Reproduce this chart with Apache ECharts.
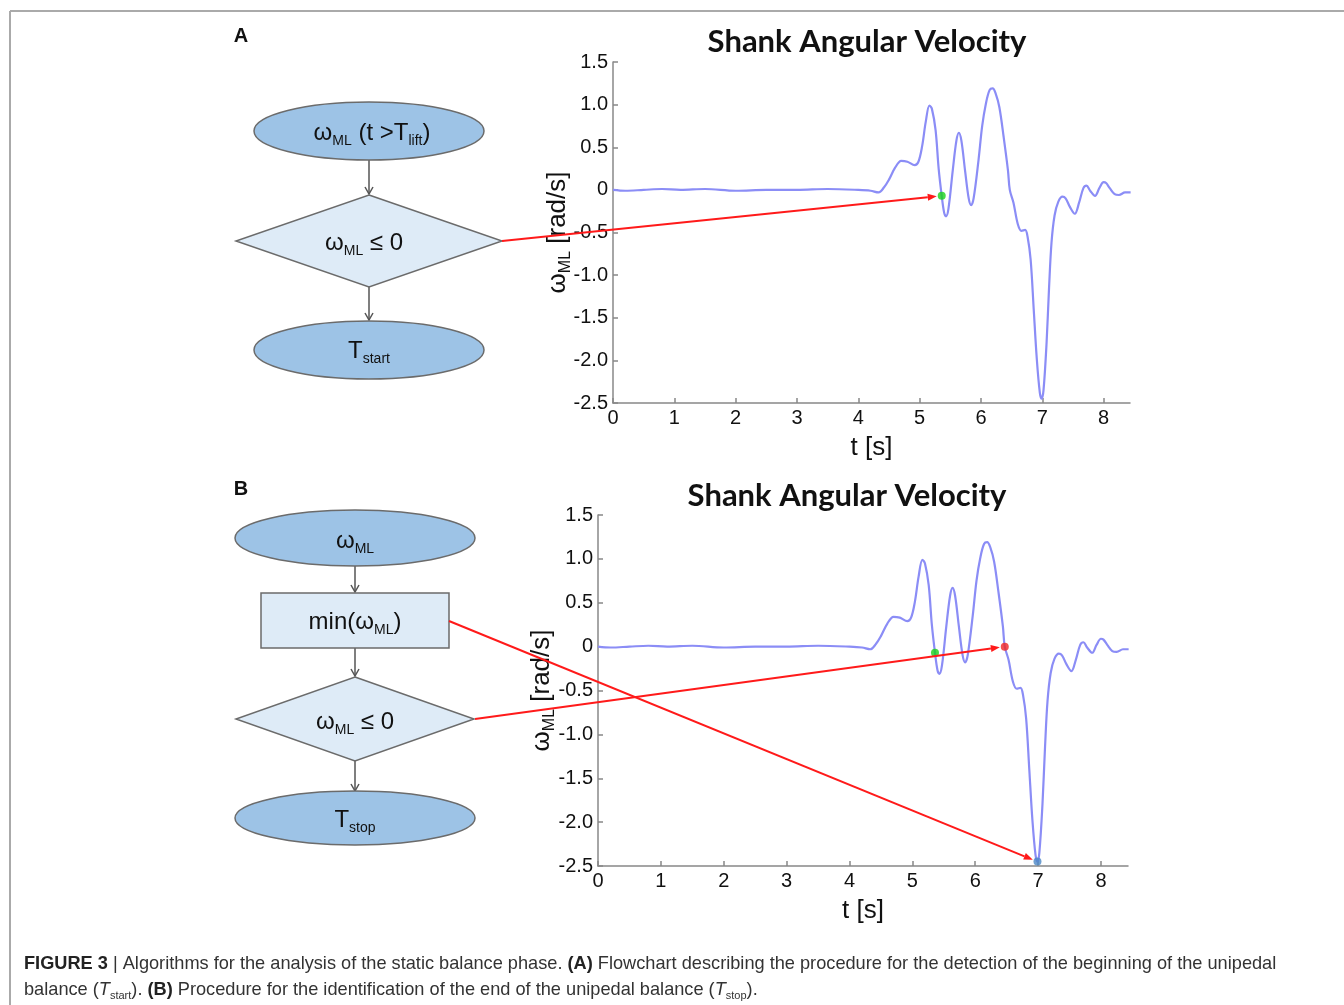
<!DOCTYPE html>
<html>
<head>
<meta charset="utf-8">
<script src="https://cdn.jsdelivr.net/npm/echarts@6/dist/echarts.min.js"></script>
<style>
html,body{margin:0;padding:0;background:#fff;}
#chart{width:1344px;height:1005px;}
</style>
</head>
<body>
<div id="chart"></div>
<script>
// ---------------- DATA ----------------
const timeS = [0.00,0.20,0.50,0.80,1.10,1.50,2.00,2.50,3.00,3.50,4.00,4.20,4.33,4.42,4.50,4.60,4.70,4.80,4.92,4.98,5.04,5.10,5.16,5.20,5.26,5.31,5.36,5.40,5.43,5.47,5.54,5.60,5.64,5.68,5.74,5.80,5.84,5.88,5.96,6.02,6.08,6.14,6.19,6.24,6.30,6.37,6.44,6.47,6.53,6.60,6.66,6.72,6.76,6.81,6.86,6.91,6.96,6.99,7.02,7.07,7.11,7.15,7.20,7.26,7.33,7.38,7.45,7.53,7.60,7.67,7.72,7.78,7.86,7.93,8.00,8.04,8.10,8.18,8.25,8.35,8.44];
const omegaML = [0.00,-0.01,0.00,0.01,0.00,0.01,-0.01,0.00,0.00,0.01,0.00,-0.01,-0.03,0.03,0.12,0.26,0.34,0.33,0.29,0.33,0.51,0.80,0.99,0.95,0.70,0.25,-0.07,-0.27,-0.31,-0.22,0.23,0.58,0.67,0.58,0.23,-0.10,-0.18,-0.10,0.35,0.75,1.01,1.17,1.19,1.13,0.97,0.62,0.23,0.00,-0.15,-0.40,-0.48,-0.47,-0.55,-0.82,-1.40,-1.98,-2.38,-2.45,-2.35,-1.79,-1.15,-0.62,-0.30,-0.14,-0.08,-0.10,-0.20,-0.28,-0.15,0.02,0.05,-0.01,-0.07,0.02,0.09,0.08,0.02,-0.05,-0.06,-0.03,-0.03];
const startPoint = [5.36, -0.07];   // green: T_start
const stopPoint  = [6.47, 0.00];    // red: T_stop
const minPoint   = [6.99, -2.45];   // blue: min(omega)
const xTicks = [0,1,2,3,4,5,6,7,8];
const yTicks = [-2.5,-2.0,-1.5,-1.0,-0.5,0,0.5,1.0,1.5];
const titleText = 'Shank Angular Velocity';

// ---------------- STYLE HELPERS ----------------
const FONT = '"Liberation Sans", Arial, sans-serif';
const lineData = timeS.map((t, i) => [t, omegaML[i]]);
const fmtY = v => (Math.abs(v) < 1e-9 ? '0' : v.toFixed(1));

function xAxisCfg(gi) {
  return {
    type: 'value', gridIndex: gi, min: 0, max: 8.43, interval: 1,
    name: 't [s]', nameLocation: 'middle', nameGap: 32, nameMoveOverlap: false,
    nameTextStyle: {fontFamily: FONT, fontSize: 26, color: '#111'},
    axisLine: {show: true, onZero: false, lineStyle: {color: '#888', width: 1.5}},
    axisTick: {show: true, inside: true, length: 5, customValues: xTicks, lineStyle: {color: '#888', width: 1.5}},
    axisLabel: {customValues: xTicks, fontFamily: FONT, fontSize: 20, color: '#111', margin: 5, formatter: v => String(v)},
    splitLine: {show: false}
  };
}
function yAxisCfg(gi, gap) {
  return {
    type: 'value', gridIndex: gi, min: -2.5, max: 1.5, interval: 0.5,
    name: '{m|ω}{s|ML}{m| [rad/s]}', nameLocation: 'middle', nameGap: gap, nameRotate: 90, nameMoveOverlap: false,
    nameTextStyle: {rich: {
      m: {fontFamily: FONT, fontSize: 26, color: '#111', lineHeight: 32, verticalAlign: 'middle'},
      s: {fontFamily: FONT, fontSize: 16, color: '#111', lineHeight: 16, verticalAlign: 'bottom'}
    }},
    axisLine: {show: true, onZero: false, lineStyle: {color: '#888', width: 1.5}},
    axisTick: {show: true, inside: true, length: 5, customValues: yTicks, lineStyle: {color: '#888', width: 1.5}},
    axisLabel: {customValues: yTicks, fontFamily: FONT, fontSize: 20, color: '#111', margin: 5, formatter: fmtY},
    splitLine: {show: false}
  };
}

const CURVE = '#8b8df6';
function curveSeries(gi) {
  return {type: 'line', xAxisIndex: gi, yAxisIndex: gi, data: lineData, smooth: 0.35,
    showSymbol: false, lineStyle: {color: CURVE, width: 2.2}, silent: true, z: 2};
}
function dotSeries(gi, pt, color) {
  return {type: 'scatter', xAxisIndex: gi, yAxisIndex: gi, data: [pt], symbolSize: 8,
    itemStyle: {color: color}, z: 5, silent: true};
}

// ---------------- FLOWCHART GRAPHICS ----------------
const ELL_FILL = '#9dc3e6', BOX_FILL = '#deebf7', STROKE = '#6b6b6b';
const richM = {fontFamily: FONT, fontSize: 24, fill: '#111', lineHeight: 30, verticalAlign: 'middle'};
const richS = {fontFamily: FONT, fontSize: 14, fill: '#111', lineHeight: 14, verticalAlign: 'bottom'};
function label(x, y, txt) {
  return {type: 'text', z: 20, style: {x: x, y: y, text: txt, align: 'center', verticalAlign: 'middle',
    rich: {m: richM, s: richS}}};
}
function ellipse(cx, cy, rx, ry) {
  return {type: 'ellipse', z: 10, shape: {cx: cx, cy: cy, rx: rx, ry: ry},
    style: {fill: ELL_FILL, stroke: STROKE, lineWidth: 1.5}};
}
function diamond(cx, cy, hw, hh) {
  return {type: 'polygon', z: 10, shape: {points: [[cx, cy - hh], [cx + hw, cy], [cx, cy + hh], [cx - hw, cy]]},
    style: {fill: BOX_FILL, stroke: STROKE, lineWidth: 1.5}};
}
function downArrow(x, y1, y2) {
  return [
    {type: 'line', z: 9, shape: {x1: x, y1: y1, x2: x, y2: y2}, style: {stroke: '#555', lineWidth: 1.5}},
    {type: 'polyline', z: 9, shape: {points: [[x - 4, y2 - 7], [x, y2], [x + 4, y2 - 7]]}, style: {stroke: '#555', lineWidth: 1.5, fill: null}}
  ];
}

const CAP_FONT = '"Liberation Sans Narrow", ' + FONT;
const flowGraphics = [
  // frame
  {type: 'line', shape: {x1: 10, y1: 11, x2: 1344, y2: 11}, style: {stroke: '#aaa', lineWidth: 2}},
  {type: 'line', shape: {x1: 10, y1: 11, x2: 10, y2: 1005}, style: {stroke: '#aaa', lineWidth: 2}},
  // panel letters
  {type: 'text', style: {x: 241, y: 36, text: 'A', font: 'bold 20px ' + FONT, fill: '#111', align: 'center', verticalAlign: 'middle'}},
  {type: 'text', style: {x: 241, y: 489, text: 'B', font: 'bold 20px ' + FONT, fill: '#111', align: 'center', verticalAlign: 'middle'}},
  // ---- A ----
  ellipse(369, 131, 115, 29),
  label(372, 133, '{m|ω}{s|ML}{m| (t >T}{s|lift}{m|)}'),
  ...downArrow(369, 160, 194),
  diamond(369, 241, 133, 46),
  label(364, 243, '{m|ω}{s|ML}{m| ≤ 0}'),
  ...downArrow(369, 287, 320),
  ellipse(369, 350, 115, 29),
  label(369, 351, '{m|T}{s|start}'),
  // ---- B ----
  ellipse(355, 538, 120, 28),
  label(355, 541, '{m|ω}{s|ML}'),
  ...downArrow(355, 566, 592),
  {type: 'rect', z: 10, shape: {x: 261, y: 593, width: 188, height: 55}, style: {fill: BOX_FILL, stroke: STROKE, lineWidth: 1.5}},
  label(355, 622, '{m|min(ω}{s|ML}{m|)}'),
  ...downArrow(355, 648, 676),
  diamond(355, 719, 119, 42),
  label(355, 722, '{m|ω}{s|ML}{m| ≤ 0}'),
  ...downArrow(355, 761, 791),
  ellipse(355, 818, 120, 27),
  label(355, 820, '{m|T}{s|stop}'),
  // caption
  {type: 'text', style: {x: 24, y: 964, verticalAlign: 'middle', align: 'left',
    text: '{b|FIGURE 3} | Algorithms for the analysis of the static balance phase. {b|(A)} Flowchart describing the procedure for the detection of the beginning of the unipedal',
    font: '18.2px ' + CAP_FONT, fill: '#333',
    rich: {b: {fontFamily: CAP_FONT, fontSize: 18.2, fontWeight: 'bold', fill: '#222'}}}},
  {type: 'text', style: {x: 24, y: 990, verticalAlign: 'middle', align: 'left',
    text: 'balance ({i|T}{is|start}). {b|(B)} Procedure for the identification of the end of the unipedal balance ({i|T}{is|stop}).',
    font: '18.2px ' + CAP_FONT, fill: '#333',
    rich: {
      b: {fontFamily: CAP_FONT, fontSize: 18.2, fontWeight: 'bold', fill: '#222'},
      i: {fontFamily: CAP_FONT, fontSize: 18.2, fontStyle: 'italic', fill: '#333', lineHeight: 22, verticalAlign: 'middle'},
      is: {fontFamily: CAP_FONT, fontSize: 11, fill: '#333', lineHeight: 11, verticalAlign: 'bottom'}
    }}}
];

// ---------------- CHART ----------------
const chart = echarts.init(document.getElementById('chart'), null, {renderer: 'canvas'});
const TITLE_STYLE = {fontFamily: 'Lato, "Open Sans", sans-serif', fontWeight: 'bold', fontSize: 31, color: '#111'};
const option = {
  animation: false,
  backgroundColor: '#fff',
  title: [
    {text: titleText, left: 862, top: 21, textAlign: 'center', textStyle: TITLE_STYLE},
    {text: titleText, left: 842, top: 475, textAlign: 'center', textStyle: TITLE_STYLE}
  ],
  grid: [
    {left: 613, top: 62, width: 517, height: 341},
    {left: 598, top: 515, width: 530, height: 351}
  ],
  xAxis: [xAxisCfg(0), xAxisCfg(1)],
  yAxis: [yAxisCfg(0, 39), yAxisCfg(1, 40)],
  series: [
    curveSeries(0),
    dotSeries(0, startPoint, '#19d219'),
    curveSeries(1),
    dotSeries(1, startPoint, '#19d219'),
    dotSeries(1, stopPoint, '#f02424'),
    dotSeries(1, minPoint, '#4b87c5')
  ],
  graphic: flowGraphics
};
chart.setOption(option);

// red arrows from flowchart nodes to the data points (pixel positions via chart scales)
function redArrow(x1, y1, pt, gi) {
  const p = chart.convertToPixel({gridIndex: gi}, pt);
  const dx = p[0] - x1, dy = p[1] - y1, L = Math.hypot(dx, dy);
  const ux = dx / L, uy = dy / L, nx = -uy, ny = ux;
  const tipX = p[0] - ux * 5, tipY = p[1] - uy * 5;
  const bx = tipX - ux * 9, by = tipY - uy * 9;
  return [
    {type: 'line', z: 30, shape: {x1: x1, y1: y1, x2: bx, y2: by}, style: {stroke: '#ff1a1a', lineWidth: 2}},
    {type: 'polygon', z: 30, shape: {points: [[tipX, tipY], [bx + nx * 3.5, by + ny * 3.5], [bx - nx * 3.5, by - ny * 3.5]]}, style: {fill: '#ff1a1a'}}
  ];
}
const arrows = [
  ...redArrow(502, 241, startPoint, 0),
  ...redArrow(475, 719, stopPoint, 1),
  ...redArrow(449, 621, minPoint, 1)
];
chart.setOption({graphic: flowGraphics.concat(arrows)}, {replaceMerge: ['graphic']});
</script>
</body>
</html>
